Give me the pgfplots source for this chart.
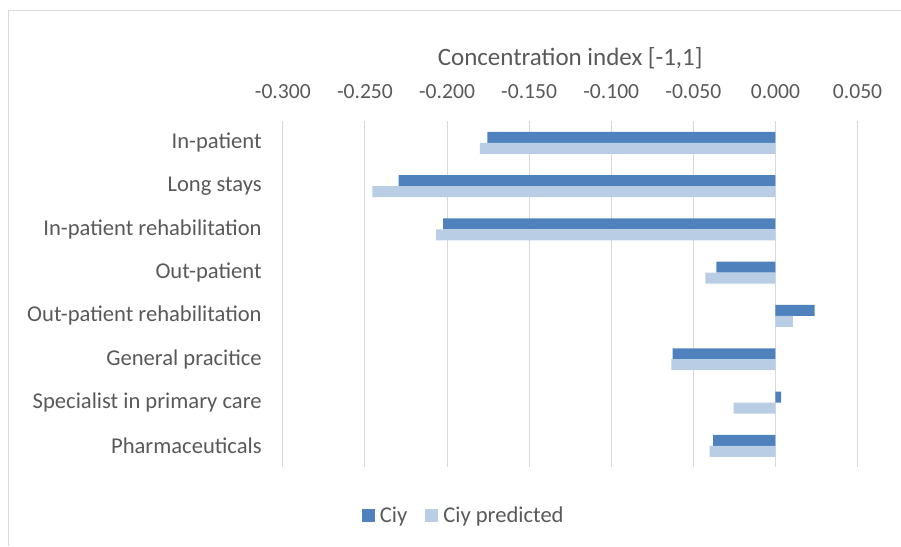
\documentclass[border=0pt]{standalone}
\usepackage{pgfplots}
\pgfplotsset{compat=1.18}
\usepackage{fontspec}
\setmainfont{Carlito}
\definecolor{ciy}{HTML}{4F81BD}
\definecolor{ciyp}{HTML}{B9CDE5}
\definecolor{gridc}{HTML}{D9D9D9}
\definecolor{txt}{HTML}{595959}
\begin{document}
\fontsize{21bp}{25bp}\selectfont
\begin{tikzpicture}[x=1bp,y=1bp]
\path (0,0) rectangle (901,546);
\draw[gridc, line width=1bp] (8.5,0) -- (8.5,535.5) -- (901,535.5);
\begin{axis}[at={(283bp,78.3bp)}, anchor=south west, scale only axis,
  width=575bp, height=346.4bp,
  xmin=-0.3, xmax=0.05, ymin=-0.5, ymax=7.5,
  xtick={-0.3,-0.25,-0.2,-0.15,-0.1,-0.05,0,0.05},
  scaled x ticks=false,
  ytick={0,...,7},
  yticklabels={Pharmaceuticals, Specialist in primary care, General pracitice, Out-patient rehabilitation, Out-patient, In-patient rehabilitation, Long stays, In-patient},
  xticklabel pos=upper,
  axis line style={draw=none}, major tick length=0pt,
  xmajorgrids, grid style={gridc, line width=1bp},
  /pgf/number format/assume math mode=true,
  x tick label style={/pgf/number format/fixed, /pgf/number format/fixed zerofill, /pgf/number format/precision=3, anchor=base, inner sep=0pt, yshift=22.6bp, font=\fontsize{21.6bp}{25bp}\selectfont},
  y tick label style={anchor=east, inner sep=0pt, xshift=-21bp, font=\fontsize{22.6bp}{26bp}\selectfont},
  tick label style={text=txt},
  xbar, bar width=11bp,
  area legend,
  legend image code/.code={\fill[#1] (0bp,-6.5bp) rectangle (13bp,6.5bp);},
  legend style={at={(0.3148,-0.14)}, anchor=center, draw=none, fill=none,
    legend columns=2, font=\fontsize{22.6bp}{26bp}\selectfont, text=txt,
    /tikz/every odd column/.append style={column sep=3bp},
    /tikz/every even column/.append style={column sep=16bp}},
]
\addplot[fill=ciy, draw=none, bar shift=5.5bp] coordinates {(-0.1755,7) (-0.2295,6) (-0.2024,5) (-0.0359,4) (0.0239,3) (-0.0626,2) (0.0035,1) (-0.0379,0)};
\addplot[fill=ciyp, draw=none, bar shift=-5.5bp] coordinates {(-0.180,7) (-0.2455,6) (-0.2066,5) (-0.0426,4) (0.0106,3) (-0.0634,2) (-0.0254,1) (-0.0401,0)};
\legend{Ciy, Ciy predicted}
\end{axis}
\node[text=txt, anchor=base, font=\fontsize{25bp}{30bp}\selectfont] at (570.5,480) {Concentration index [-1,1]};
\end{tikzpicture}
\end{document}
